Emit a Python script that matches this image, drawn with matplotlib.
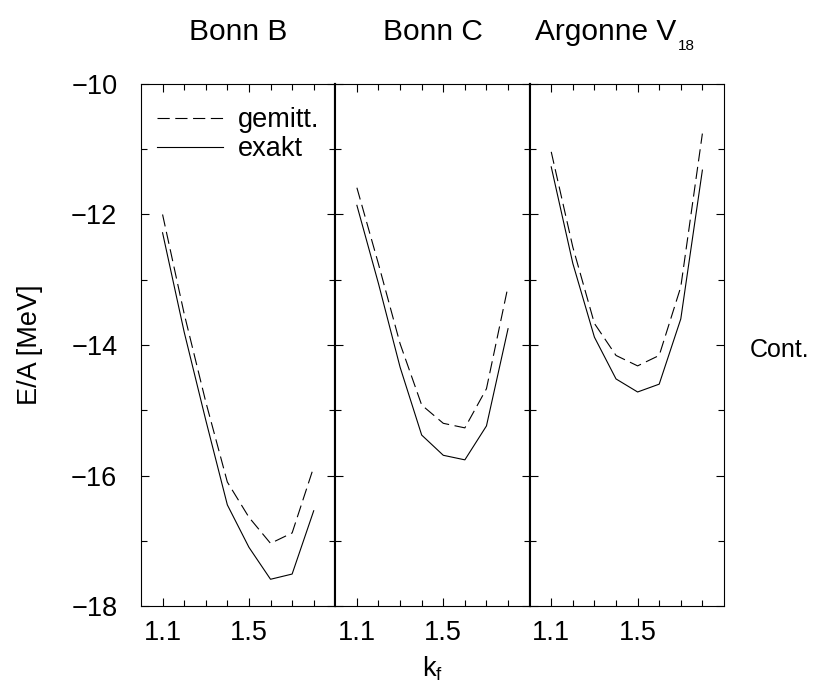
import matplotlib
matplotlib.use('Agg')
import matplotlib.pyplot as plt

plt.rcParams['font.family'] = ['Liberation Sans', 'DejaVu Sans']
plt.rcParams['mathtext.fontset'] = 'custom'
plt.rcParams['mathtext.rm'] = 'Liberation Sans'
plt.rcParams['mathtext.it'] = 'Liberation Sans:italic'

# k_f grid and E/A values (MeV)
kf = [1.1, 1.2, 1.3, 1.4, 1.5, 1.6, 1.7, 1.8]

bonn_b_gemitt = [-12.00, -13.52, -14.87, -16.10, -16.64, -17.04, -16.88, -15.87]
bonn_b_exakt = [-12.28, -13.80, -15.15, -16.45, -17.10, -17.59, -17.51, -16.54]

bonn_c_gemitt = [-11.59, -12.76, -13.98, -14.92, -15.20, -15.27, -14.67, -13.10]
bonn_c_exakt = [-11.86, -13.06, -14.34, -15.38, -15.69, -15.76, -15.24, -13.75]

av18_gemitt = [-11.04, -12.50, -13.67, -14.16, -14.32, -14.16, -13.11, -10.76]
av18_exakt = [-11.27, -12.75, -13.88, -14.52, -14.72, -14.60, -13.60, -11.32]

titles = ['Bonn B', 'Bonn C', 'Argonne V']
title_sub = ['', '', '18']
gemitt = [bonn_b_gemitt, bonn_c_gemitt, av18_gemitt]
exakt = [bonn_b_exakt, bonn_c_exakt, av18_exakt]

fs_tick = 19.5
fs_title = 21.5

fig, axes = plt.subplots(1, 3, figsize=(8.13, 6.90), dpi=100, sharey=True)
fig.subplots_adjust(left=0.1734, right=0.8905, bottom=0.1217, top=0.8783, wspace=0)

for i, ax in enumerate(axes):
    ax.plot(kf, gemitt[i], color='black', lw=0.8, dashes=(11, 5), label='gemitt.')
    ax.plot(kf, exakt[i], color='black', lw=0.8, label='exakt')
    ax.set_xlim(1.0, 1.9)
    ax.set_ylim(-18, -10)
    ax.set_xticks([1.1, 1.5])
    ax.set_xticks([1.2, 1.3, 1.4, 1.6, 1.7, 1.8], minor=True)
    ax.set_yticks([-18, -16, -14, -12, -10])
    ax.set_yticks([-17, -15, -13, -11], minor=True)
    ax.tick_params(which='both', direction='in', top=True, right=True,
                   labelsize=fs_tick, width=0.8)
    ax.tick_params(axis='x', pad=10)
    ax.tick_params(axis='y', pad=17)
    ax.tick_params(which='major', length=6)
    ax.tick_params(which='minor', length=4)
    if i > 0:
        ax.tick_params(labelleft=False)
    for s in ax.spines.values():
        s.set_linewidth(0.8)
    # inner dividers look heavier in the original
    if i > 0:
        ax.spines['left'].set_linewidth(1.5)
    if i < 2:
        ax.spines['right'].set_linewidth(1.5)
    if title_sub[i]:
        t = ax.text(0.03, 1.0 + 52 / 522, titles[i], transform=ax.transAxes,
                    ha='left', va='center', fontsize=fs_title)
        ax.annotate(title_sub[i], xy=(1, 0), xycoords=t, xytext=(1, 0),
                    textcoords='offset points', ha='left', va='center',
                    fontsize=11)
    else:
        ax.text(0.5, 1.0 + 52 / 522, titles[i], transform=ax.transAxes,
                ha='center', va='center', fontsize=fs_title)

axes[0].set_yticklabels(['\u221218', '\u221216', '\u221214', '\u221212', '\u221210'])
axes[0].set_ylabel('E/A [MeV]', fontsize=fs_tick, labelpad=20)
axes[1].set_xlabel('k$_\\mathrm{f}$', fontsize=fs_tick, labelpad=6)

axes[0].legend(loc='upper left', bbox_to_anchor=(0.08, 0.955), frameon=False,
               fontsize=fs_tick, handlelength=2.45, handletextpad=0.55,
               labelspacing=0.1, borderpad=0, borderaxespad=0)

fig.text(750 / 813, 1 - 350 / 690, 'Cont.', fontsize=18, ha='left', va='center')

plt.savefig('out.png', dpi=100)
